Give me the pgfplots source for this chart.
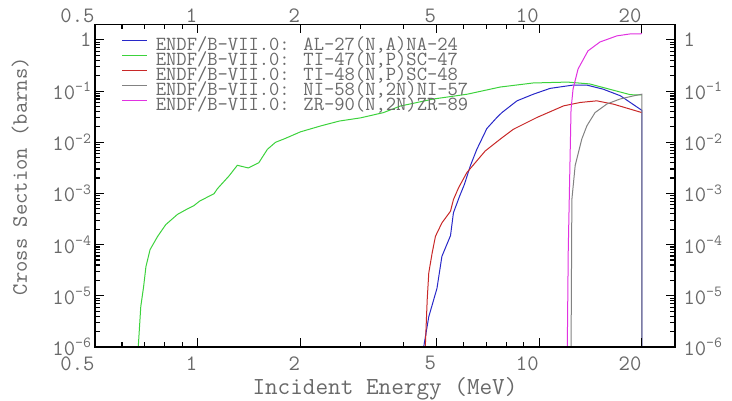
\documentclass[border=0pt]{standalone}
\usepackage{pgfplots}
\pgfplotsset{compat=1.18}
\definecolor{txt}{RGB}{105,105,105}
\definecolor{cblue}{RGB}{40,40,200}
\definecolor{cgreen}{RGB}{60,210,60}
\definecolor{cred}{RGB}{200,40,40}
\definecolor{cgray}{RGB}{130,130,130}
\definecolor{cmag}{RGB}{225,50,225}

\pgfplotsset{legend image code/.code={\draw[#1] (0pt,5pt) -- (25pt,5pt);}}

\begin{document}
\begin{tikzpicture}
\useasboundingbox (-95pt,-54pt) rectangle (637pt,347pt);

\begin{axis}[
    scale only axis, width=580pt, height=322.5pt,
    xmode=log, ymode=log,
    xmin=0.5, xmax=25, ymin=1e-6, ymax=2,
    axis line style={black, line width=1.4pt},
    tick style={black, line width=1.1pt},
    major tick length=9pt, minor tick length=5pt,
    xtick={0.5,1,2,5,10,20},
    xticklabels={0.5,1,2,5,10,20},
    minor xtick={0.6,0.7,0.8,0.9,3,4,6,7,8,9},
    ytick={1e-6,1e-5,1e-4,1e-3,1e-2,1e-1,1},
    yticklabels={10\textsuperscript{-6},10\textsuperscript{-5},10\textsuperscript{-4},10\textsuperscript{-3},10\textsuperscript{-2},10\textsuperscript{-1},1},
    minor ytick={2e-6,3e-6,4e-6,5e-6,6e-6,7e-6,8e-6,9e-6,
                 2e-5,3e-5,4e-5,5e-5,6e-5,7e-5,8e-5,9e-5,
                 2e-4,3e-4,4e-4,5e-4,6e-4,7e-4,8e-4,9e-4,
                 2e-3,3e-3,4e-3,5e-3,6e-3,7e-3,8e-3,9e-3,
                 2e-2,3e-2,4e-2,5e-2,6e-2,7e-2,8e-2,9e-2,
                 2e-1,3e-1,4e-1,5e-1,6e-1,7e-1,8e-1,9e-1},
    ticklabel style={font=\fontsize{22}{22}\ttfamily, text=txt},
    xticklabel style={anchor=north east, xshift=3pt, yshift=-6pt},
    xlabel={Incident Energy (MeV)},
    ylabel={Cross Section (barns)},
    xlabel style={font=\fontsize{24.5}{24.5}\ttfamily, text=txt, at={(axis description cs:0.5,-0.13)}, anchor=center},
    ylabel style={font=\fontsize{22}{22}\ttfamily, text=txt, at={(axis description cs:-0.129,0.53)}, anchor=center},
    legend cell align=left,
    legend style={draw=none, fill=none, inner sep=0pt, column sep=8pt,
      at={(axis description cs:0.046,0.958)}, anchor=north west,
      font=\fontsize{20}{20}\ttfamily, text=txt,
      nodes={inner sep=0pt, text height=12pt, text depth=3pt}},
  ]

% Al-27(n,a)Na-24
\addplot[cblue, line width=1pt] coordinates {
  (4.59,1e-6) (4.75,3.9e-6) (5.02,1.4e-5) (5.19,5.9e-5) (5.5,1.5e-4)
  (5.61,4.2e-4) (5.85,8.9e-4) (6.04,1.5e-3) (6.29,3.5e-3) (6.57,7.3e-3)
  (7.03,0.0186) (7.52,0.0305) (7.78,0.038) (8.61,0.0645) (9.62,0.087)
  (10.77,0.113) (12.57,0.131) (13.8,0.131) (15.4,0.109) (17.3,0.081)
  (20,0.042) (20,1e-7)
};
\addlegendentry{ENDF/B-VII.0: AL-27(N,A)NA-24}

% Ti-47(n,p)Sc-47
\addplot[cgreen, line width=1pt] coordinates {
  (0.668,8e-7) (0.681,6.2e-6) (0.694,1.5e-5) (0.705,3.7e-5) (0.725,8.0e-5)
  (0.763,1.45e-4) (0.806,2.46e-4) (0.872,3.9e-4) (0.933,5.0e-4) (0.975,5.8e-4)
  (1.013,7.1e-4) (1.116,9.9e-4) (1.142,1.24e-3) (1.234,2.19e-3) (1.306,3.55e-3)
  (1.406,3.15e-3) (1.51,4.0e-3) (1.6,7.3e-3) (1.69,0.0100) (1.8,0.0118)
  (2.0,0.0160) (2.3,0.021) (2.6,0.026) (3.0,0.030) (3.5,0.038)
  (3.92,0.051) (4.9,0.070) (6.16,0.087) (7.69,0.120) (9.6,0.144)
  (12.1,0.150) (14.06,0.138) (16.5,0.104) (18.5,0.085) (20,0.084)
};
\addlegendentry{ENDF/B-VII.0: TI-47(N,P)SC-47}

% Ti-48(n,p)Sc-48
\addplot[cred, line width=1pt] coordinates {
  (4.64,1e-6) (4.70,8.4e-6) (4.75,2.8e-5) (4.86,6.9e-5) (4.97,1.46e-4)
  (5.19,2.66e-4) (5.5,4.5e-4) (5.61,7.6e-4) (5.81,1.3e-3) (6.14,2.55e-3)
  (6.95,6.76e-3) (7.69,0.0115) (8.41,0.018) (9.85,0.0305) (11.8,0.0515)
  (13.2,0.060) (14.75,0.0645) (16.5,0.0556) (20,0.038)
};
\addlegendentry{ENDF/B-VII.0: TI-48(N,P)SC-48}

% Ni-58(n,2n)Ni-57
\addplot[cgray, line width=1pt] coordinates {
  (12.38,1e-7) (12.47,7.6e-4) (12.75,3.5e-3) (13.33,0.0115) (13.8,0.021)
  (14.58,0.038) (15.8,0.056) (17.25,0.070) (18.8,0.080) (20,0.087) (20,1e-7)
};
\addlegendentry{ENDF/B-VII.0: NI-58(N,2N)NI-57}

% Zr-90(n,2n)Zr-89
\addplot[cmag, line width=1pt] coordinates {
  (12.05,1e-7) (12.17,8e-5) (12.4,0.044) (12.57,0.11) (13.0,0.27)
  (13.9,0.61) (15.07,0.91) (16.9,1.2) (18.5,1.31) (20,1.32)
};
\addlegendentry{ENDF/B-VII.0: ZR-90(N,2N)ZR-89}
\end{axis}

% second axis only for the tick labels on top and right
\begin{axis}[
    scale only axis, width=580pt, height=322.5pt,
    xmode=log, ymode=log,
    xmin=0.5, xmax=25, ymin=1e-6, ymax=2,
    axis line style={black, line width=1.4pt},
    tick style={black, line width=1.1pt},
    major tick length=9pt, minor tick length=5pt,
    xtick={0.5,1,2,5,10,20},
    xticklabels={0.5,1,2,5,10,20},
    ytick={1e-6,1e-5,1e-4,1e-3,1e-2,1e-1,1},
    yticklabels={10\textsuperscript{-6},10\textsuperscript{-5},10\textsuperscript{-4},10\textsuperscript{-3},10\textsuperscript{-2},10\textsuperscript{-1},1},
    ticklabel style={font=\fontsize{22}{22}\ttfamily, text=txt},
    xticklabel pos=upper, yticklabel pos=right,
    xticklabel style={anchor=south east, xshift=3pt, yshift=-2pt},
    yticklabel style={xshift=5pt},
  ]
\addplot[draw=none] coordinates {(1,0.01)};
\end{axis}
\end{tikzpicture}
\end{document}
